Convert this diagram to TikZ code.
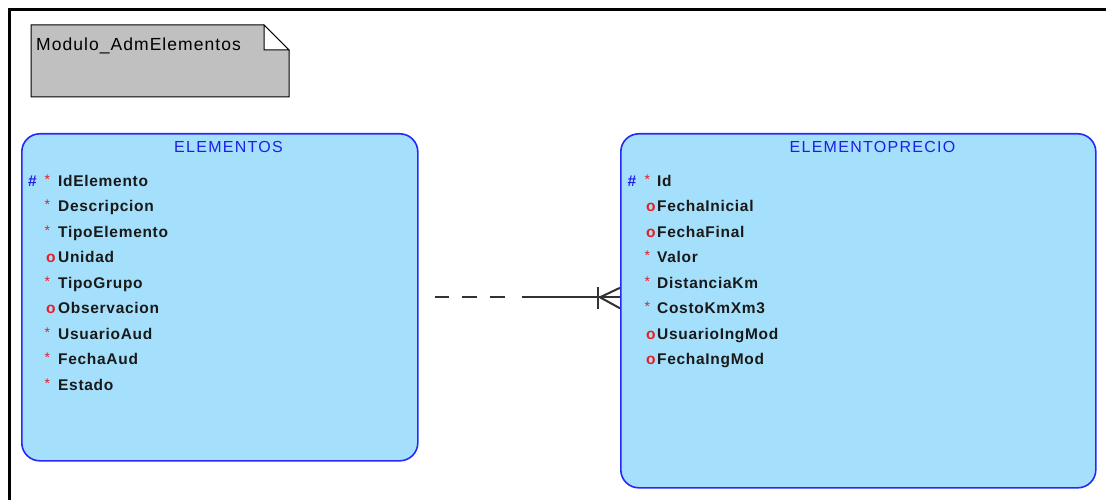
\documentclass[tikz,border=0pt]{standalone}
\usepackage{fontspec}
\setmainfont{Liberation Sans}
\newfontfamily\rowfont[LetterSpace=4.5]{Liberation Sans}
\newfontfamily\titlefont[LetterSpace=8]{Liberation Sans}
\newfontfamily\notefont[LetterSpace=6]{Liberation Sans}
\usetikzlibrary{calc}
\definecolor{tblfill}{RGB}{164,224,252}
\definecolor{tblline}{RGB}{40,40,250}
\definecolor{mkred}{RGB}{230,30,40}
\definecolor{mkblue}{RGB}{30,30,230}
\definecolor{notegray}{RGB}{192,192,192}
\definecolor{linkgray}{RGB}{50,50,50}
\newcommand\mkreq{*}
\newcommand\mkopt{o}
\begin{document}
\begin{tikzpicture}[x=1pt,y=-1pt,
 tbl/.style={draw=tblline, line width=1.6pt, fill=tblfill, rounded corners=18pt, anchor=north west, inner sep=0pt, rectangle},
 ttl/.style={anchor=base, text=mkblue, font=\titlefont\fontsize{16}{18}\selectfont, inner sep=0pt},
 attr/.style={anchor=base west, inner sep=0pt, text=black!90, font=\rowfont\bfseries\fontsize{15.5}{18}\selectfont},
 pk/.style={anchor=base west, inner sep=0pt, text=mkblue, font=\rowfont\bfseries\fontsize{15.5}{18}\selectfont},
 req/.style={anchor=base west, inner sep=0pt, text=mkred, xshift=1pt, yshift=2pt, font=\rowfont\fontsize{14}{16}\selectfont},
 opt/.style={anchor=base west, inner sep=0pt, text=mkred, xshift=2.5pt, font=\rowfont\bfseries\fontsize{15.5}{18}\selectfont},
 link/.style={draw=linkgray, line width=2pt},
 note/.style={draw=black, line width=1pt},
]
\useasboundingbox (0,0) rectangle (1106,500);
\fill[white] (0,0) rectangle (1106,500);
% frame
\draw[line width=3pt] (9.3,501) -- (9.3,10) -- (1107,10);
% note
\draw[note, fill=notegray] (31,25) -- (264,25) -- (289,50) -- (289,97) -- (31,97) -- cycle;
\draw[note, fill=white] (264,25) -- (264,50) -- (289,50) -- cycle;
\node[anchor=base west, inner sep=0pt, font=\notefont\fontsize{17.5}{20}\selectfont] (notetxt) at (36,50.5) {Modulo\_AdmElementos};
% tables
\node[tbl, minimum width=396pt, minimum height=327pt] (elem) at (21,133) {};
\node[tbl, minimum width=475pt, minimum height=354pt] (prec) at (620,133) {};
\node[ttl] (elemT) at (228.5,152.3) {ELEMENTOS};
\node[ttl] (precT) at (872.5,152.3) {ELEMENTOPRECIO};
% ELEMENTOS rows
\node[pk] (ep0) at (28,186) {\#};
\node[req] (em0) at (43.5,186) {*};
\node[attr] (e0) at (58,186) {IdElemento};
\foreach \m/\t [count=\i from 1] in {req/Descripcion, req/TipoElemento, opt/Unidad, req/TipoGrupo, opt/Observacion, req/UsuarioAud, req/FechaAud, req/Estado}{
  \node[\m] (em\i) at (43.5,186+25.5*\i) {\csname mk\m\endcsname};
  \node[attr] (e\i) at (58,186+25.5*\i) {\t};
}
% ELEMENTOPRECIO rows
\node[pk] (pp0) at (627.5,186) {\#};
\node[req] (pm0) at (643.5,186) {*};
\node[attr] (p0) at (657,186) {Id};
\foreach \m/\t [count=\i from 1] in {opt/FechaInicial, opt/FechaFinal, req/Valor, req/DistanciaKm, req/CostoKmXm3, opt/UsuarioIngMod, opt/FechaIngMod}{
  \node[\m] (pm\i) at (643.5,186+25.5*\i) {\csname mk\m\endcsname};
  \node[attr] (p\i) at (657,186+25.5*\i) {\t};
}
% relationship
\coordinate (cfw) at (elem.east -| prec.west);
\draw[link, dash pattern={on 0pt off 16pt on 14pt off 13pt on 15pt off 13pt on 15pt off 17pt on 250pt}] (elem.east) -- (cfw);
\draw[link] ($(cfw)+(-20,0)$) -- ($(cfw)+(0,-9.5)$);
\draw[link] ($(cfw)+(-20,0)$) -- ($(cfw)+(0,11)$);
\draw[link] ($(cfw)+(-22.5,-10)$) -- ($(cfw)+(-22.5,12)$);
\end{tikzpicture}
\end{document}
